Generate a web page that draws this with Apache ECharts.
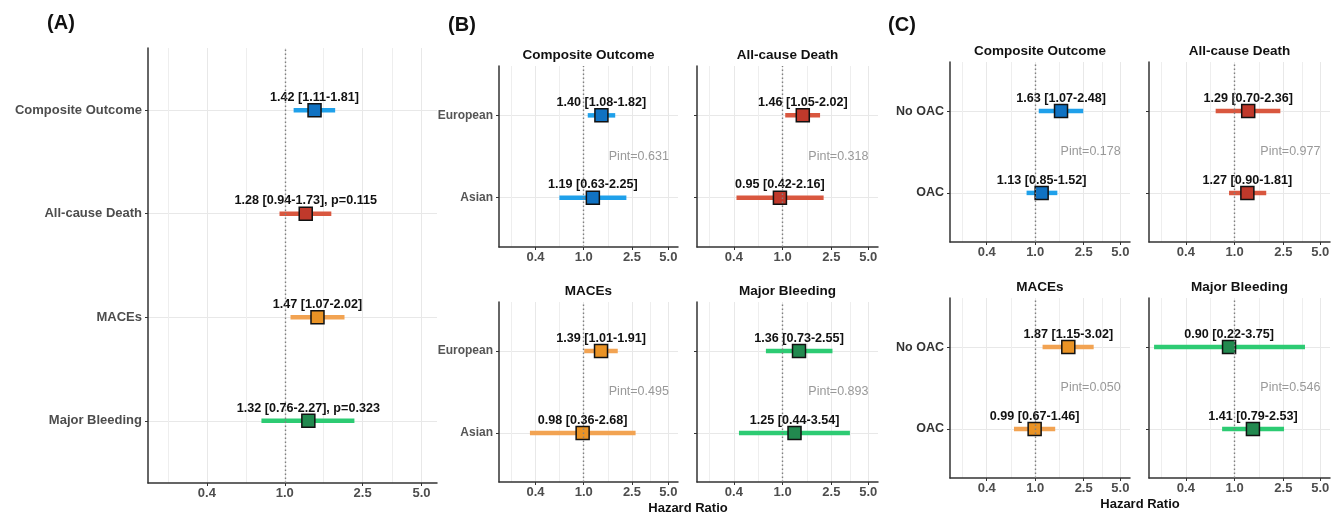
<!DOCTYPE html>
<html>
<head>
<meta charset="utf-8">
<script src="https://cdn.jsdelivr.net/npm/echarts@6/dist/echarts.min.js"></script>
<style>
html,body{margin:0;padding:0;background:#fff}
#chart{width:1331px;height:515px}
</style>
</head>
<body>
<div id="chart"></div>
<script>
// outcomes, one panel (or facet) each
var outcomes = ['Composite Outcome', 'All-cause Death', 'MACEs', 'Major Bleeding'];

// (A) whole cohort
var overallHR = [1.42, 1.28, 1.47, 1.32];
var overallLo = [1.11, 0.94, 1.07, 0.76];
var overallHi = [1.81, 1.73, 2.02, 2.27];
var overallP = ['', '0.115', '', '0.323'];

// (B) by ethnicity: [European, Asian] per outcome
var ethnicGroups = ['European', 'Asian'];
var ethnicHR = [[1.40, 1.19], [1.46, 0.95], [1.39, 0.98], [1.36, 1.25]];
var ethnicLo = [[1.08, 0.63], [1.05, 0.42], [1.01, 0.36], [0.73, 0.44]];
var ethnicHi = [[1.82, 2.25], [2.02, 2.16], [1.91, 2.68], [2.55, 3.54]];
var ethnicPint = ['0.631', '0.318', '0.495', '0.893'];

// (C) by anticoagulation: [No OAC, OAC] per outcome
var oacGroups = ['No OAC', 'OAC'];
var oacHR = [[1.63, 1.13], [1.29, 1.27], [1.87, 0.99], [0.90, 1.41]];
var oacLo = [[1.07, 0.85], [0.70, 0.90], [1.15, 0.67], [0.22, 0.79]];
var oacHi = [[2.48, 1.52], [2.36, 1.81], [3.02, 1.46], [3.75, 2.53]];
var oacPint = ['0.178', '0.977', '0.050', '0.546'];

// x axis (hazard ratio, log scale)
var xBreaks = [0.4, 1.0, 2.5, 5.0];
var xLimits = [0.2, 6];
var pintAt = 2.85;

var barColors = ['#1fa0ea', '#d9573f', '#f2a352', '#2dcb73'];
var boxColors = ['#1072c2', '#c0392b', '#ea9325', '#22894f'];
var FONT = '"Liberation Sans", Arial, sans-serif';

function lg(v) { return Math.log(v) / Math.LN10; }

var majorX = xBreaks.map(lg);
var minorX = [majorX[0] - (majorX[1] - majorX[0]) / 2];
for (var m = 0; m < majorX.length - 1; m++) {
    minorX.push((majorX[m] + majorX[m + 1]) / 2);
}

function ciText(hr, lo, hi, p) {
    var s = hr.toFixed(2) + ' [' + lo.toFixed(2) + '-' + hi.toFixed(2) + ']';
    if (p) s += ', p=' + p;
    return s;
}

var option = {
    animation: false,
    backgroundColor: '#fff',
    textStyle: {fontFamily: FONT},
    grid: [], xAxis: [], yAxis: [], series: [], graphic: []
};

function addPanel(box, rows, hr, lo, hi, labels, colIdx, yLab, showYLab, pint, title) {
    var gi = option.grid.length;
    var n = rows.length;
    option.grid.push({
        left: box[0], top: box[1], width: box[2], height: box[3],
        containLabel: false, outerBoundsMode: 'none'
    });
    // main x axis: line, ticks, labels and major grid
    option.xAxis.push({
        gridIndex: gi, type: 'value', min: lg(xLimits[0]), max: lg(xLimits[1]),
        axisLine: {show: true, onZero: false, lineStyle: {color: '#333', width: 1.5}},
        axisTick: {show: true, length: 3, customValues: majorX, lineStyle: {color: '#333', width: 1}},
        axisLabel: {
            show: true, customValues: majorX, margin: 4,
            fontFamily: FONT, fontWeight: 'bold', fontSize: 13, color: '#4d4d4d',
            formatter: function (v) { return Math.pow(10, v).toFixed(1); }
        },
        splitLine: {show: true, lineStyle: {color: '#e8e8e8', width: 1}}
    });
    // second x axis only for minor grid lines
    option.xAxis.push({
        gridIndex: gi, type: 'value', min: lg(xLimits[0]), max: lg(xLimits[1]),
        position: 'bottom',
        axisLine: {show: false, onZero: false},
        axisTick: {show: false, customValues: minorX},
        axisLabel: {show: false},
        splitLine: {show: true, lineStyle: {color: '#eeeeee', width: 1}}
    });
    var yVals = [];
    for (var k = 1; k <= n; k++) yVals.push(k);
    option.yAxis.push({
        gridIndex: gi, type: 'value', min: 0.4, max: n + 0.6,
        axisLine: {show: true, onZero: false, lineStyle: {color: '#333', width: 1.5}},
        axisTick: {show: true, length: 3, customValues: yVals, lineStyle: {color: '#333', width: 1}},
        axisLabel: {
            show: showYLab, customValues: yVals, margin: 6,
            fontFamily: FONT, fontWeight: 'bold', fontSize: yLab.size, color: yLab.color,
            formatter: function (v) { return rows[n - Math.round(v)]; }
        },
        splitLine: {show: true, lineStyle: {color: '#e8e8e8', width: 1}}
    });

    var ci = [], pts = [];
    for (var i = 0; i < n; i++) {
        var y = n - i;
        ci.push({value: [lg(lo[i]), lg(hi[i]), y], c: barColors[colIdx[i]]});
        pts.push({value: [lg(hr[i]), y, labels[i]], itemStyle: {color: boxColors[colIdx[i]]}});
    }

    // reference line at HR = 1 and the interaction p label
    option.series.push({
        type: 'scatter', xAxisIndex: 2 * gi, yAxisIndex: gi, z: 1,
        symbolSize: 0, silent: true,
        data: pint ? [[lg(pintAt), (n + 1) / 2, 'Pint=' + pint]] : [],
        label: {
            show: true, position: 'inside', formatter: function (p) { return p.value[2]; },
            fontFamily: FONT, fontSize: 12.5, color: '#808080'
        },
        markLine: {
            silent: true, symbol: ['none', 'none'], label: {show: false},
            lineStyle: {color: '#7f7f7f', type: [1.6, 2.4], width: 1.4},
            data: [{xAxis: 0}]
        }
    });
    // confidence intervals
    option.series.push({
        type: 'custom', xAxisIndex: 2 * gi, yAxisIndex: gi, z: 3, silent: true,
        encode: {x: [0, 1], y: 2},
        data: ci,
        renderItem: function (params, api) {
            var a = api.coord([api.value(0), api.value(2)]);
            var b = api.coord([api.value(1), api.value(2)]);
            return {
                type: 'line',
                shape: {x1: a[0], y1: a[1], x2: b[0], y2: b[1]},
                style: {stroke: ci[params.dataIndex].c, lineWidth: 4.5}
            };
        }
    });
    // point estimates
    option.series.push({
        type: 'scatter', xAxisIndex: 2 * gi, yAxisIndex: gi, z: 4, silent: true,
        symbol: 'rect', symbolSize: 13,
        itemStyle: {borderColor: '#111', borderWidth: 1.5, opacity: 1},
        label: {
            show: true, position: 'top', distance: 0, offset: [0, 1],
            formatter: function (p) { return p.value[2]; },
            fontFamily: FONT, fontWeight: 'bold', fontSize: 12.6, color: '#111'
        },
        data: pts
    });

    if (title) {
        option.graphic.push({
            type: 'text', x: box[0] + box[2] / 2, y: box[1] - 11,
            style: {text: title, font: 'bold 13.5px ' + FONT, fill: '#111', align: 'center', verticalAlign: 'middle'}
        });
    }
}

// (A)
var aLabels = [];
for (var a = 0; a < outcomes.length; a++) {
    aLabels.push(ciText(overallHR[a], overallLo[a], overallHi[a], overallP[a]));
}
addPanel([148, 48, 289, 435], outcomes, overallHR, overallLo, overallHi, aLabels,
    [0, 1, 2, 3], {size: 13, color: '#4d4d4d'}, true, null, null);

// (B) and (C) facets
var bBoxes = [[499, 66, 179, 181], [697, 66, 181, 181], [499, 302, 179, 180], [697, 302, 181, 180]];
var cBoxes = [[950, 62, 180, 180], [1149, 62, 181, 180], [950, 298, 180, 180], [1149, 298, 181, 180]];

function facetLabels(hr, lo, hi) {
    var out = [];
    for (var j = 0; j < hr.length; j++) out.push(ciText(hr[j], lo[j], hi[j], ''));
    return out;
}

for (var f = 0; f < outcomes.length; f++) {
    addPanel(bBoxes[f], ethnicGroups, ethnicHR[f], ethnicLo[f], ethnicHi[f],
        facetLabels(ethnicHR[f], ethnicLo[f], ethnicHi[f]), [f, f],
        {size: 12, color: '#555'}, f % 2 === 0, ethnicPint[f], outcomes[f]);
}
for (var g = 0; g < outcomes.length; g++) {
    addPanel(cBoxes[g], oacGroups, oacHR[g], oacLo[g], oacHi[g],
        facetLabels(oacHR[g], oacLo[g], oacHi[g]), [g, g],
        {size: 12.5, color: '#333'}, g % 2 === 0, oacPint[g], outcomes[g]);
}

// panel tags and x axis titles
var tags = [['(A)', 61, 23], ['(B)', 462, 25], ['(C)', 902, 25]];
tags.forEach(function (t) {
    option.graphic.push({
        type: 'text', x: t[1], y: t[2],
        style: {text: t[0], font: 'bold 20px ' + FONT, fill: '#111', align: 'center', verticalAlign: 'middle'}
    });
});
[[688, 508], [1140, 504]].forEach(function (p) {
    option.graphic.push({
        type: 'text', x: p[0], y: p[1],
        style: {text: 'Hazard Ratio', font: 'bold 13px ' + FONT, fill: '#111', align: 'center', verticalAlign: 'middle'}
    });
});

var myChart = echarts.init(document.getElementById('chart'), null, {renderer: 'canvas'});
myChart.setOption(option);
</script>
</body>
</html>
